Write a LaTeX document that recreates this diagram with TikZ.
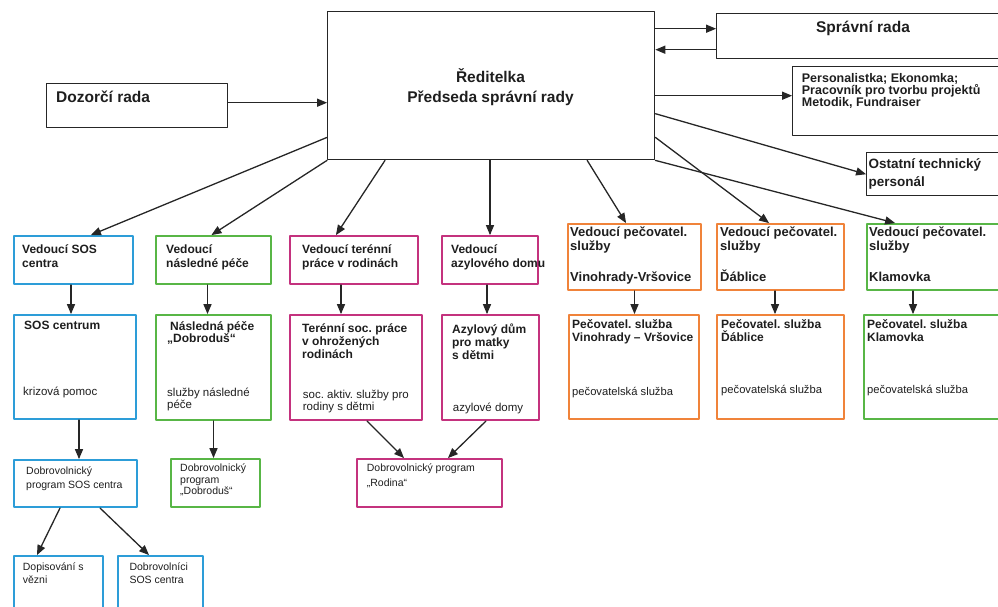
\documentclass[tikz,border=0pt]{standalone}
\usepackage{fontspec}
\setmainfont{Liberation Sans}
\usetikzlibrary{arrows}
\definecolor{sosblue}{RGB}{45,157,216}
\definecolor{nasgreen}{RGB}{88,182,70}
\definecolor{rodpink}{RGB}{196,50,126}
\definecolor{pecorange}{RGB}{240,131,58}
\definecolor{txtgray}{RGB}{30,30,30}
\newcommand{\fsz}[2]{\fontsize{#1}{#2}\selectfont}
\frenchspacing

\begin{document}
\begin{tikzpicture}[line cap=round,line join=round,>=triangle 45,x=1pt,y=-1pt,
  cbox/.style={draw=#1,line width=2pt,anchor=north west,inner sep=0pt},
  bbox/.style={draw=black!85,line width=1.4pt,anchor=north west,inner sep=0pt},
  head/.style={anchor=north west,inner sep=0pt,align=left,text=txtgray,font=\bfseries\fsz{12}{14}},
  desc/.style={anchor=north west,inner sep=0pt,align=left,text=txtgray,font=\fsz{11.5}{12.3}},
  conn/.style={line width=1.3pt,draw=black!85}]
\useasboundingbox (0,0) rectangle (998,606);
% top level
\node [bbox,minimum width=327pt,minimum height=148pt] (main) at (327,11) {};
\node [anchor=north,inner sep=0pt,align=center,text=txtgray,font=\bfseries\fsz{15.5}{20}] at (490.5,68.7) {Ředitelka\\Předseda správní rady};
\node [bbox,minimum width=181pt,minimum height=44pt] (doz) at (46,83) {};
\node [head,font=\bfseries\fsz{15.5}{18}] at (56,91) {Dozorčí rada};
\node [bbox,minimum width=289pt,minimum height=45pt] (sprava) at (716,13) {};
\node [text=txtgray,inner sep=0pt,font=\bfseries\fsz{15.5}{18}] at (863,28) {Správní rada};
\node [bbox,minimum width=213pt,minimum height=69pt] (pers) at (792,66) {};
\node [head,font=\bfseries\fsz{12.5}{12.2}] at (801.7,73.3) {Personalistka; Ekonomka;\\Pracovník pro tvorbu projektů\\Metodik, Fundraiser};
\node [bbox,minimum width=139pt,minimum height=43pt] (ost) at (866,152) {};
\node [head,font=\bfseries\fsz{13.5}{17.7}] at (868.3,158.6) {Ostatní technický\\personál};
% leaders
\node [cbox=sosblue,minimum width=119pt,minimum height=48pt] (sos1) at (13,235) {};
\node [head] at (22,244) {Vedoucí SOS\\centra};
\node [cbox=nasgreen,minimum width=115pt,minimum height=48pt] (nas1) at (155,235) {};
\node [head] at (166,244) {Vedoucí\\následné péče};
\node [cbox=rodpink,minimum width=128pt,minimum height=48pt] (ter1) at (289,235) {};
\node [head] at (302,244) {Vedoucí terénní\\práce v rodinách};
\node [cbox=rodpink,minimum width=96pt,minimum height=48pt] (azy1) at (441,235) {};
\node [head] at (451,244) {Vedoucí\\azylového domu};
\node [cbox=pecorange,minimum width=133pt,minimum height=66pt] (vin1) at (567,223) {};
\node [head,font=\bfseries\fsz{13}{14.5}] at (570,226.5) {Vedoucí pečovatel.\\služby\\[16pt]Vinohrady-Vršovice};
\node [cbox=pecorange,minimum width=127pt,minimum height=66pt] (dab1) at (716,223) {};
\node [head,font=\bfseries\fsz{13}{14.5}] at (720,226.5) {Vedoucí pečovatel.\\služby\\[16pt]Ďáblice};
\node [cbox=nasgreen,minimum width=139pt,minimum height=66pt] (kla1) at (866,223) {};
\node [head,font=\bfseries\fsz{13}{14.5}] at (869,226.5) {Vedoucí pečovatel.\\služby\\[16pt]Klamovka};
% services
\node [cbox=sosblue,minimum width=122pt,minimum height=104pt] (sos2) at (13,314) {};
\node [head] at (24,321) {SOS centrum};
\node [desc] at (23,387) {krizová pomoc};
\node [cbox=nasgreen,minimum width=115pt,minimum height=105pt] (nas2) at (155,314) {};
\node [head,font=\bfseries\fsz{12}{12.7}] at (167,321) {\hspace{3pt}Následná péče\\„Dobroduš“};
\node [desc] at (167,388) {služby následné\\péče};
\node [cbox=rodpink,minimum width=132pt,minimum height=105pt] (ter2) at (289,314) {};
\node [head,font=\bfseries\fsz{12}{12.8}] at (302,323.6) {Terénní soc. práce\\v ohrožených\\rodinách};
\node [desc] at (302.7,389.7) {soc. aktiv. služby pro\\rodiny s dětmi};
\node [cbox=rodpink,minimum width=97pt,minimum height=105pt] (azy2) at (441,314) {};
\node [head,font=\bfseries\fsz{12}{12.8}] at (452,323.6) {Azylový dům\\pro matky\\s dětmi};
\node [desc] at (452.7,402.8) {azylové domy};
\node [cbox=pecorange,minimum width=130pt,minimum height=104pt] (vin2) at (568,314) {};
\node [head,font=\bfseries\fsz{12}{12.7}] at (572,319.3) {Pečovatel. služba\\Vinohrady – Vršovice};
\node [desc,font=\fsz{11.2}{12.3}] at (572,387.2) {pečovatelská služba};
\node [cbox=pecorange,minimum width=127pt,minimum height=104pt] (dab2) at (716,314) {};
\node [head,font=\bfseries\fsz{12}{12.7}] at (721,319.3) {Pečovatel. služba\\Ďáblice};
\node [desc,font=\fsz{11.2}{12.3}] at (721,384.8) {pečovatelská služba};
\node [cbox=nasgreen,minimum width=142pt,minimum height=104pt] (kla2) at (863,314) {};
\node [head,font=\bfseries\fsz{12}{12.7}] at (867,319.3) {Pečovatel. služba\\Klamovka};
\node [desc,font=\fsz{11.2}{12.3}] at (867,385.5) {pečovatelská služba};
% volunteers
\node [cbox=sosblue,minimum width=123pt,minimum height=47pt] (sos3) at (13,459) {};
\node [desc,font=\fsz{10.5}{13.6}] at (26,466.5) {Dobrovolnický\\program SOS centra};
\node [cbox=nasgreen,minimum width=89pt,minimum height=48pt] (nas3) at (170,458) {};
\node [desc,font=\fsz{10.5}{11.4}] at (180,464) {Dobrovolnický\\program\\„Dobroduš“};
\node [cbox=rodpink,minimum width=145pt,minimum height=48pt] (rod) at (356,458) {};
\node [desc,font=\fsz{10.5}{14.3}] at (366.7,464) {Dobrovolnický program\\„Rodina“};
\node [cbox=sosblue,minimum width=89pt,minimum height=60pt] (dop) at (13,555) {};
\node [desc,font=\fsz{10.5}{13.3}] at (22.7,562.5) {Dopisování s\\vězni};
\node [cbox=sosblue,minimum width=85pt,minimum height=60pt] (dob) at (117,555) {};
\node [desc,font=\fsz{10.5}{13.3}] at (129.3,562.5) {Dobrovolníci\\SOS centra};
% connectors from the top
\draw [->,conn] ([yshift=3pt]doz.east) -- ([yshift=3pt]doz.east -| main.west);
\draw [->,conn] ([yshift=7.5pt]sprava.west -| main.east) -- ([yshift=7.5pt]sprava.west);
\draw [->,conn] ([yshift=-13.5pt]sprava.west) -- ([yshift=-13.5pt]sprava.west -| main.east);
\draw [->,conn] ([yshift=5.5pt]pers.west -| main.east) -- ([yshift=5.5pt]pers.west);
\draw [->,conn] ([yshift=-28pt]main.east) -- (ost.west);
\draw [->,conn] ([yshift=23pt]main.south west) -- ([xshift=17.5pt]sos1.north);
\draw [->,conn] (main.south west) -- ([xshift=-2pt]nas1.north);
\draw [->,conn] ([xshift=58pt]main.south west) -- ([xshift=-18pt]ter1.north);
\draw [->,conn] (azy1.north |- main.south) -- (azy1.north);
\draw [->,conn] ([xshift=96pt]main.south) -- ([xshift=-8.5pt]vin1.north);
\draw [->,conn] ([yshift=23pt]main.south east) -- ([xshift=-11.5pt]dab1.north);
\draw [->,conn] (main.south east) -- ([xshift=29pt]kla1.north west);
% leaders to services
\draw [->,conn] ([xshift=-2.5pt]sos1.south) -- ([xshift=-2.5pt]sos1.south |- sos2.north);
\draw [->,conn] ([xshift=-6pt]nas1.south) -- ([xshift=-6pt]nas1.south |- nas2.north);
\draw [->,conn] ([xshift=-13pt]ter1.south) -- ([xshift=-13pt]ter1.south |- ter2.north);
\draw [->,conn] ([xshift=-3pt]azy1.south) -- ([xshift=-3pt]azy1.south |- azy2.north);
\draw [->,conn] (vin1.south) -- (vin1.south |- vin2.north);
\draw [->,conn] ([xshift=-5.5pt]dab1.south) -- ([xshift=-5.5pt]dab1.south |- dab2.north);
\draw [->,conn] ([xshift=47pt]kla1.south west) -- ([xshift=47pt]kla1.south west |- kla2.north);
% services to volunteers
\draw [->,conn] ([xshift=4pt]sos2.south) -- ([xshift=4pt]sos2.south |- sos3.north);
\draw [->,conn] (nas2.south) -- (nas2.south |- nas3.north);
\draw [->,conn] ([xshift=11pt]ter2.south) -- ([xshift=-25.5pt]rod.north);
\draw [->,conn] ([xshift=-4.5pt]azy2.south) -- ([xshift=18.5pt]rod.north);
\draw [->,conn] ([xshift=-15.5pt]sos3.south) -- ([xshift=-21.5pt]dop.north);
\draw [->,conn] ([xshift=24.5pt]sos3.south) -- ([xshift=-11.5pt]dob.north);
\end{tikzpicture}
\end{document}
